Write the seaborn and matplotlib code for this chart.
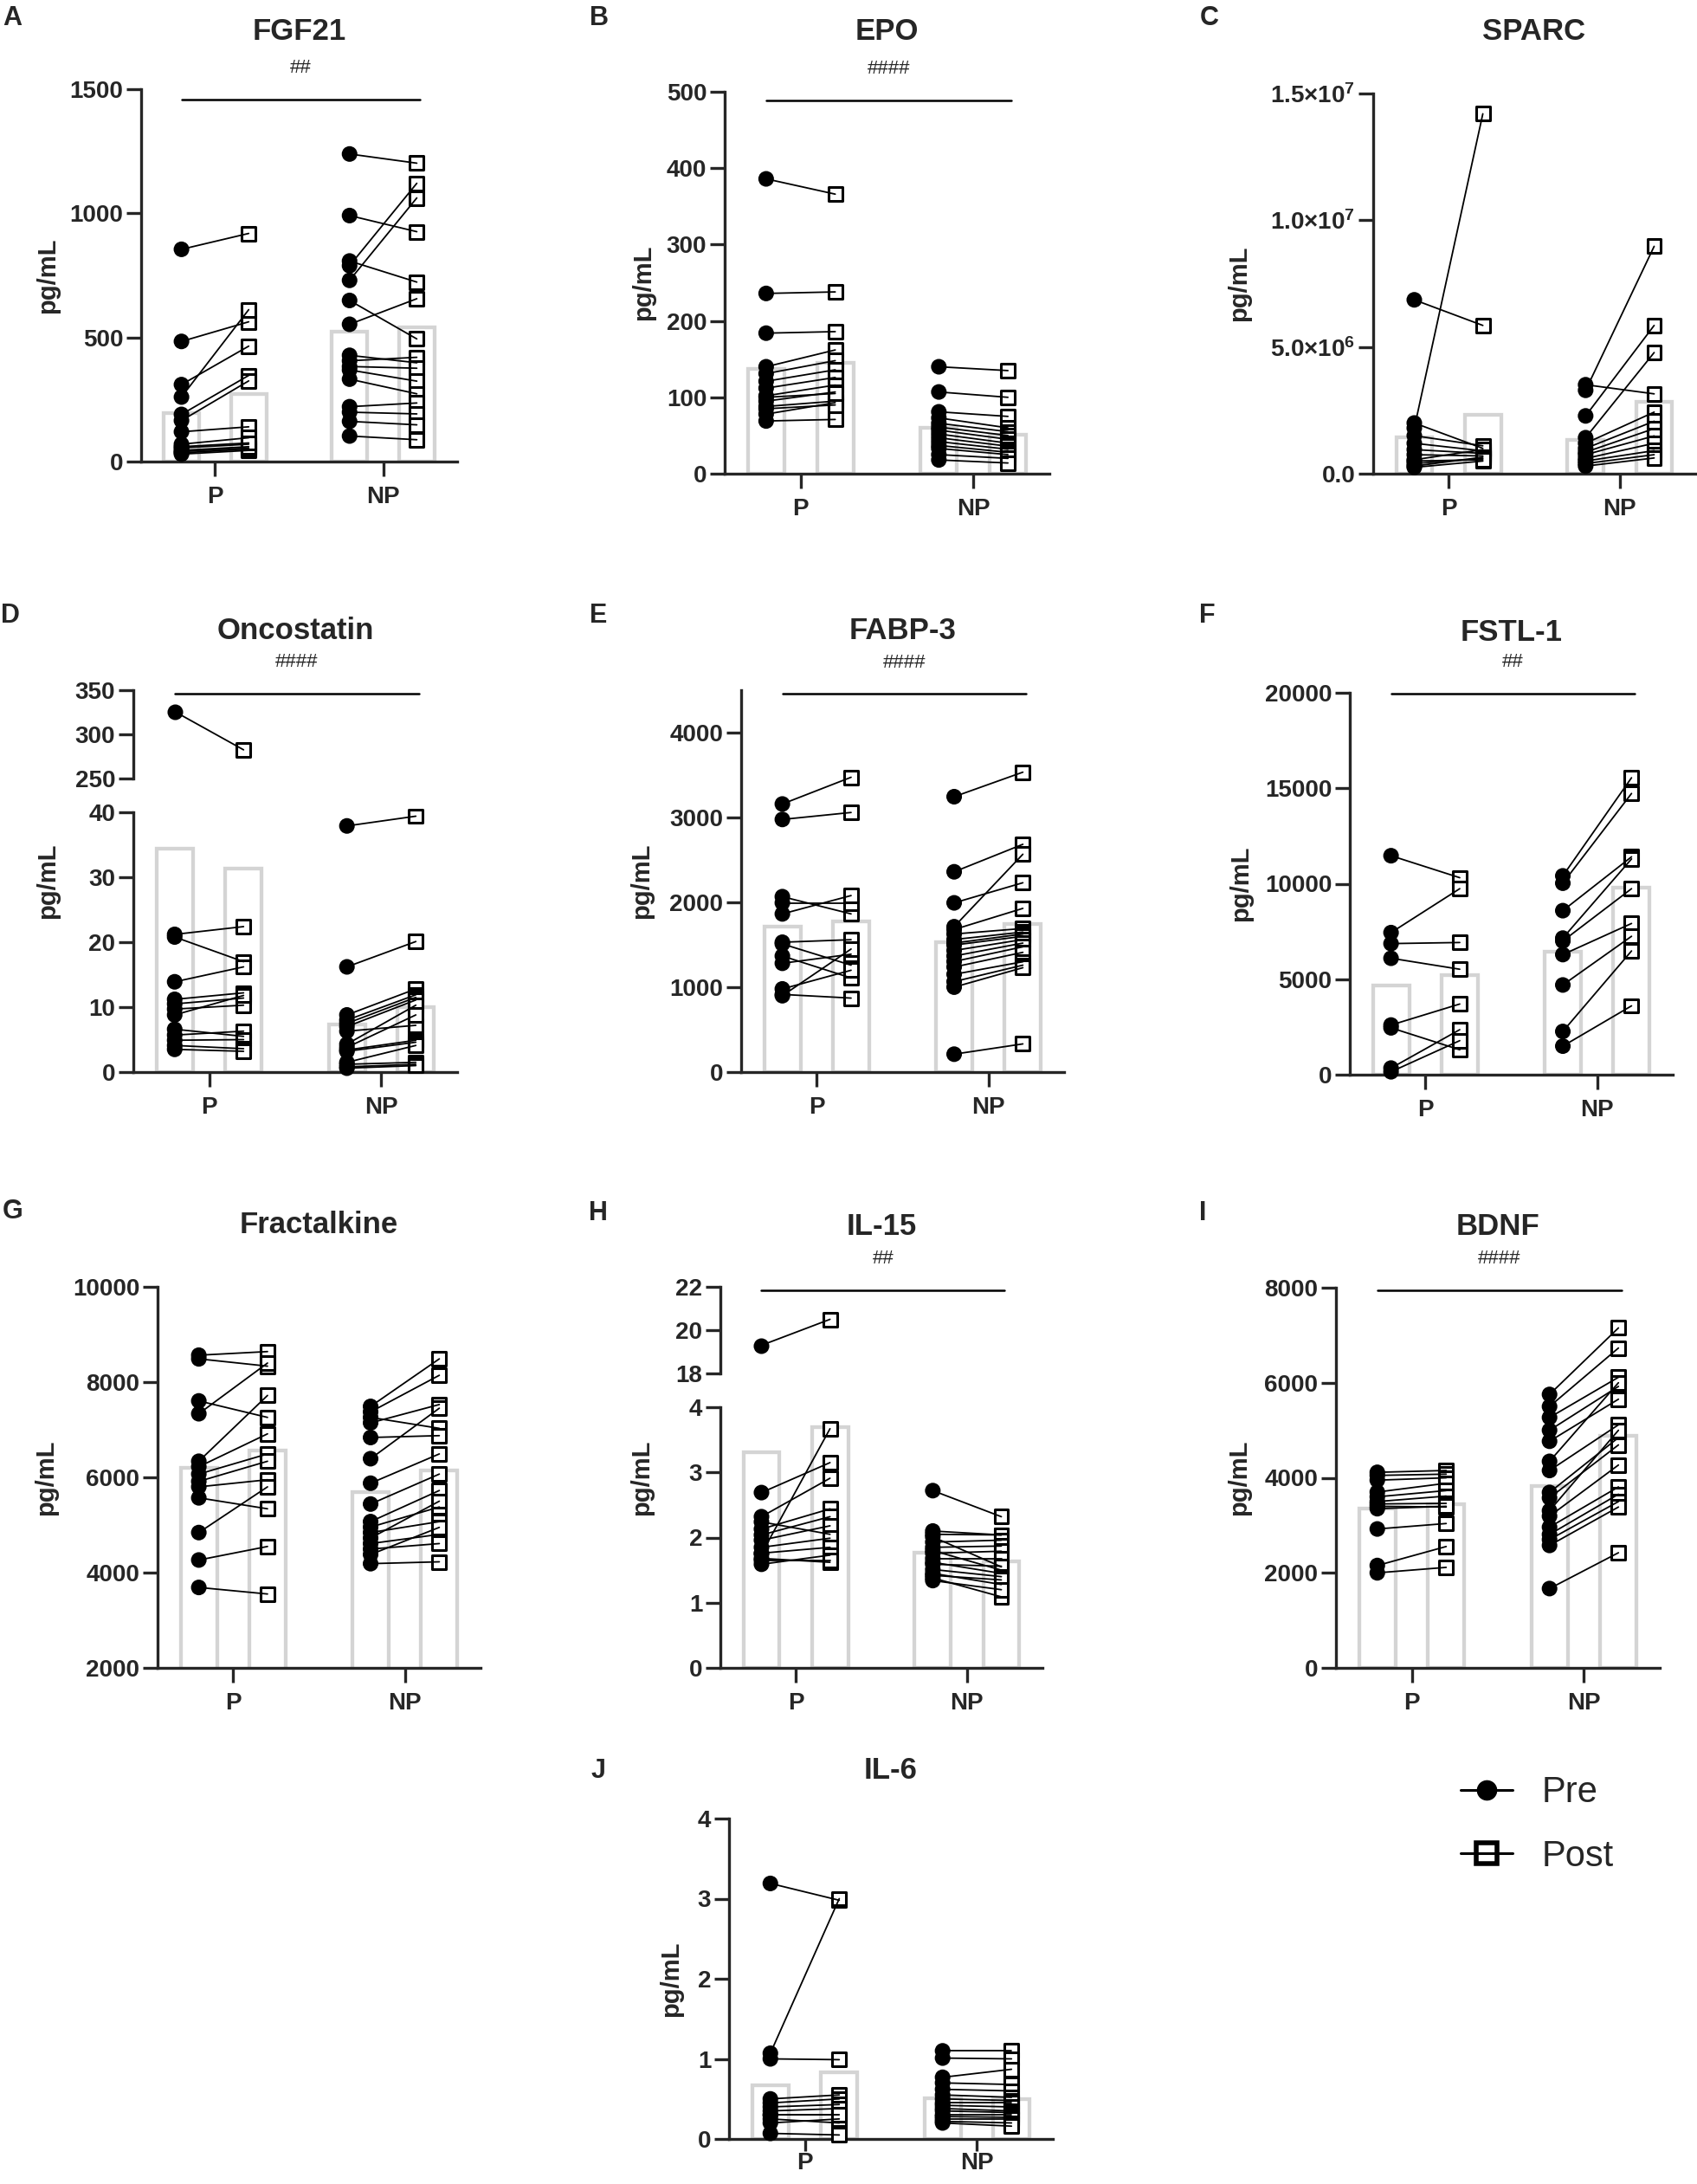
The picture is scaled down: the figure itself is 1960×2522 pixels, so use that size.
import pandas as pd
import matplotlib
matplotlib.use('Agg')
import matplotlib.pyplot as plt
from matplotlib.lines import Line2D
import seaborn as sns

W, H = 1960, 2522

groups = ['P', 'NP']
times = ['Pre', 'Post']

# FGF21
fgf21_p_pre = [855, 484, 310, 260, 190, 165, 120, 70, 55, 40, 30, 35, 45, 60]
fgf21_p_post = [919, 563, 465, 612, 347, 325, 140, 96, 70, 55, 45, 50, 60, 75]
fgf21_np_pre = [1239, 991, 808, 789, 730, 649, 553, 428, 406, 383, 369, 332, 221, 199, 162, 103]
fgf21_np_post = [1202, 926, 723, 1121, 1062, 494, 656, 398, 420, 376, 324, 273, 236, 192, 148, 88]

# EPO
epo_p_pre = [386, 236, 184, 140, 131, 121, 112, 102, 95, 88, 78, 69, 85, 100]
epo_p_post = [366, 238, 186, 162, 148, 136, 126, 116, 107, 95, 93, 71, 90, 105]
epo_np_pre = [140, 107, 81, 73, 66, 61, 57, 52, 47, 42, 37, 33, 25, 18]
epo_np_post = [135, 100, 75, 60, 55, 50, 45, 40, 36, 32, 28, 25, 20, 14]

# SPARC
sparc_p_pre = [6.86e6, 2.0e6, 1.8e6, 1.5e6, 1.2e6, 0.95e6, 0.75e6, 0.55e6, 0.4e6, 0.25e6, 0.3e6, 0.5e6]
sparc_p_post = [5.85e6, 1.0e6, 14.2e6, 1.1e6, 0.9e6, 0.8e6, 0.7e6, 0.95e6, 0.6e6, 0.5e6, 0.65e6, 0.55e6]
sparc_np_pre = [3.51e6, 3.29e6, 2.28e6, 1.42e6, 1.2e6, 1.0e6, 0.85e6, 0.75e6, 0.6e6, 0.5e6, 0.4e6, 0.3e6]
sparc_np_post = [3.15e6, 8.97e6, 5.85e6, 4.78e6, 2.43e6, 2.07e6, 1.78e6, 1.49e6, 1.2e6, 0.91e6, 0.75e6, 0.62e6]

# Oncostatin
onco_p_pre = [325.8, 21.2, 20.8, 13.9, 11.2, 10.5, 9.7, 8.8, 6.6, 5.7, 4.9, 4.1, 3.5]
onco_p_post = [282.5, 22.4, 17.0, 16.2, 12.2, 11.4, 10.3, 11.8, 5.5, 6.3, 5.0, 3.6, 3.2]
onco_np_pre = [37.9, 16.2, 8.8, 8.0, 7.5, 7.0, 6.3, 4.3, 3.8, 3.4, 3.2, 1.5, 1.2, 0.8, 0.6]
onco_np_post = [39.4, 20.1, 12.8, 11.9, 11.5, 11.1, 7.2, 10.3, 8.8, 4.9, 4.6, 4.1, 1.5, 1.2, 1.0]

# FABP-3
fabp3_p_pre = [3159, 2977, 2067, 1994, 1864, 1530, 1510, 1368, 1282, 980, 915, 900]
fabp3_p_post = [3474, 3059, 1864, 1994, 2080, 1560, 1260, 1109, 1389, 1200, 872, 1450]
fabp3_np_pre = [3245, 2360, 1994, 1713, 1680, 1627, 1562, 1520, 1497, 1433, 1368, 1303, 1238, 1152, 1066, 1001, 211]
fabp3_np_post = [3534, 2684, 2231, 2567, 1929, 1692, 1650, 1627, 1600, 1562, 1520, 1476, 1411, 1300, 1260, 1230, 332]

# FSTL-1
fstl1_p_pre = [11467, 7440, 6865, 6098, 2600, 2454, 345, 153]
fstl1_p_post = [10316, 9741, 6922, 5522, 3701, 1304, 2358, 1783]
fstl1_np_pre = [10412, 10028, 8590, 7152, 7000, 6290, 4698, 2263, 1496]
fstl1_np_post = [15551, 14727, 11409, 11300, 9741, 7919, 7248, 6481, 3605]

# Fractalkine
fkn_p_pre = [8565, 8488, 7605, 7336, 6338, 6223, 6069, 5916, 5801, 5570, 4841, 4265, 3689]
fkn_p_post = [8641, 8335, 7259, 8400, 7720, 6914, 6492, 6338, 5950, 5340, 5801, 4549, 3551]
fkn_np_pre = [7490, 7375, 7259, 7144, 6837, 6392, 5877, 5440, 5071, 4956, 4841, 4726, 4610, 4495, 4380, 4188]
fkn_np_post = [8488, 8143, 7029, 7529, 6876, 7452, 6492, 6069, 5724, 5378, 5071, 5500, 4803, 4610, 4950, 4227]

# IL-15
il15_p_pre = [19.3, 2.69, 2.32, 2.24, 2.13, 2.04, 1.96, 1.85, 1.76, 1.75, 1.68, 1.59, 1.65]
il15_p_post = [20.5, 3.15, 2.91, 2.05, 2.44, 2.32, 2.18, 1.99, 1.85, 3.67, 1.62, 1.73, 1.65]
il15_np_pre = [2.72, 2.10, 2.05, 2.01, 1.93, 1.85, 1.80, 1.76, 1.68, 1.62, 1.59, 1.51, 1.45, 1.42, 1.38, 1.34]
il15_np_post = [2.32, 2.04, 2.04, 1.55, 1.96, 1.87, 1.50, 1.79, 1.68, 1.45, 1.56, 1.40, 1.28, 1.35, 1.09, 1.20]

# BDNF
bdnf_p_pre = [4115, 4050, 3950, 3700, 3600, 3500, 3450, 3400, 3350, 2923, 2154, 2000]
bdnf_p_post = [4154, 4077, 4000, 3885, 3731, 3615, 3462, 3385, 3400, 3038, 2554, 2115]
bdnf_np_pre = [5754, 5500, 5269, 5000, 4769, 4346, 4154, 3692, 3577, 3308, 3192, 2962, 2808, 2700, 2577, 1669]
bdnf_np_post = [7154, 6731, 6115, 5923, 5654, 6000, 5115, 4846, 4692, 5000, 4269, 3808, 3654, 3500, 3385, 2423]

# IL-6
il6_p_pre = [3.19, 1.07, 1.0, 0.5, 0.45, 0.4, 0.35, 0.3, 0.25, 0.07, 0.2, 0.3]
il6_p_post = [2.98, 3.0, 0.99, 0.55, 0.5, 0.43, 0.38, 0.3, 0.2, 0.05, 0.25, 0.3]
il6_np_pre = [1.10, 1.01, 0.77, 0.70, 0.62, 0.55, 0.50, 0.45, 0.42, 0.38, 0.35, 0.30, 0.28, 0.25, 0.22, 0.20]
il6_np_post = [1.10, 1.00, 0.87, 0.68, 0.60, 0.52, 0.48, 0.45, 0.40, 0.35, 0.33, 0.30, 0.27, 0.25, 0.20, 0.16]

# y ticks
fgf21_ticks = [0, 500, 1000, 1500]
epo_ticks = [0, 100, 200, 300, 400, 500]
sparc_ticks = [0, 5e6, 1e7, 1.5e7]
sparc_labels = ['0.0', '$5.0×10^{6}$', '$1.0×10^{7}$', '$1.5×10^{7}$']
onco_ticks_low = [0, 10, 20, 30, 40]
onco_ticks_up = [250, 300, 350]
fabp3_ticks = [0, 1000, 2000, 3000, 4000]
fstl1_ticks = [0, 5000, 10000, 15000, 20000]
fkn_ticks = [2000, 4000, 6000, 8000, 10000]
il15_ticks_low = [0, 1, 2, 3, 4]
il15_ticks_up = [18, 20, 22]
bdnf_ticks = [0, 2000, 4000, 6000, 8000]
il6_ticks = [0, 1, 2, 3, 4]


def make_df(p_pre, p_post, np_pre, np_post):
    rows = []
    for g, pre, post in [('P', p_pre, p_post), ('NP', np_pre, np_post)]:
        for i, (a, b) in enumerate(zip(pre, post)):
            rows.append((g, 'Pre', a, g + str(i)))
            rows.append((g, 'Post', b, g + str(i)))
    return pd.DataFrame(rows, columns=['group', 'time', 'value', 'subject'])


sns.set_style('ticks')
plt.rcParams['font.family'] = ['Liberation Sans', 'DejaVu Sans']
plt.rcParams['font.weight'] = 'bold'
plt.rcParams['mathtext.default'] = 'regular'
plt.rcParams['axes.linewidth'] = 2.4

fig = plt.figure(figsize=(W / 100, H / 100), dpi=100)


def rect(l, r, t, b):
    return [l / W, 1 - b / H, (r - l) / W, (b - t) / H]


def draw(ax, df, lo, hi, bars=True):
    if bars:
        sns.barplot(data=df, x='group', y='value', hue='time', order=groups, hue_order=times,
                    errorbar=None, fill=False, palette=['#d4d4d4', '#d4d4d4'], width=0.8, gap=0.47,
                    linewidth=3.1, legend=False, ax=ax, zorder=1)
    # only the points that fall inside this (possibly broken) y range
    shown = df[(df.value >= lo) & (df.value <= hi)]
    for t, mk, sz, lw in [('Pre', 'o', 13, 0), ('Post', 's', 11.5, 2.2)]:
        sub = shown[shown.time == t]
        if len(sub) == 0:
            continue
        sns.stripplot(data=sub, x='group', y='value', hue='time', order=groups,
                      hue_order=times, dodge=True, jitter=False, marker=mk, size=sz,
                      palette={'Pre': 'black', 'Post': 'white'}, edgecolor='black',
                      linewidth=lw, legend=False, ax=ax, zorder=3)
    for c in list(ax.collections):
        if len(c.get_offsets()) == 0:
            c.remove()
        else:
            c.set_clip_on(False)
    # pre -> post connecting lines
    for gi, g in enumerate(groups):
        wide = df[df.group == g].pivot(index='subject', columns='time', values='value')
        for _, r in wide.iterrows():
            if lo <= r['Pre'] <= hi and lo <= r['Post'] <= hi:
                ax.plot([gi - 0.2, gi + 0.2], [r['Pre'], r['Post']], color='black', lw=1.3,
                        zorder=4, clip_on=False)
    ax.set_xlim(-0.44, 1.44)
    ax.set_xlabel('')
    ax.set_ylabel('')
    sns.despine(ax=ax)
    ax.tick_params(direction='out', length=12, width=2.4, labelsize=20)
    ax.tick_params(axis='x', pad=8)
    ax.tick_params(axis='y', pad=3)


panels = [
    dict(letter='A', title='FGF21', df=make_df(fgf21_p_pre, fgf21_p_post, fgf21_np_pre, fgf21_np_post),
         box=(163, 528, 103, 533), ylim=(0, 1500), ticks=fgf21_ticks, title_y=36, let=(14, 21),
         lab_x=55, sig='##', sig_y=0.972),
    dict(letter='B', title='EPO', df=make_df(epo_p_pre, epo_p_post, epo_np_pre, epo_np_post),
         box=(837, 1212, 106, 547), ylim=(0, 500), ticks=epo_ticks, title_y=36, let=(692, 21),
         lab_x=743, sig='####', sig_y=0.978),
    dict(letter='C', title='SPARC', df=make_df(sparc_p_pre, sparc_p_post, sparc_np_pre, sparc_np_post),
         box=(1586, 1958, 108, 547), ylim=(0, 1.5e7), ticks=sparc_ticks, labels=sparc_labels,
         title_y=36, let=(1397, 21), lab_x=1431, sig=None),
    dict(letter='D', title='Oncostatin', df=make_df(onco_p_pre, onco_p_post, onco_np_pre, onco_np_post),
         box=(154, 528, 938, 1238), ylim=(0, 40), ticks=onco_ticks_low,
         upper=(797, 899), ylim_up=(250, 350), ticks_up=onco_ticks_up,
         title_y=728, let=(12, 711), lab_x=55, sig='####', sig_y=0.96),
    dict(letter='E', title='FABP-3', df=make_df(fabp3_p_pre, fabp3_p_post, fabp3_np_pre, fabp3_np_post),
         box=(856, 1229, 797, 1238), ylim=(0, 4500), ticks=fabp3_ticks, title_y=728, let=(691, 711),
         lab_x=741, sig='####', sig_y=0.99),
    dict(letter='F', title='FSTL-1', df=make_df(fstl1_p_pre, fstl1_p_post, fstl1_np_pre, fstl1_np_post),
         box=(1559, 1932, 800, 1241), ylim=(0, 20000), ticks=fstl1_ticks, title_y=730, let=(1394, 711),
         lab_x=1433, sig='##', sig_y=0.998),
    dict(letter='G', title='Fractalkine', df=make_df(fkn_p_pre, fkn_p_post, fkn_np_pre, fkn_np_post),
         box=(182, 555, 1486, 1926), ylim=(2000, 10000), ticks=fkn_ticks, title_y=1414, let=(15, 1399),
         lab_x=53, sig=None),
    dict(letter='H', title='IL-15', df=make_df(il15_p_pre, il15_p_post, il15_np_pre, il15_np_post),
         box=(832, 1204, 1625, 1926), ylim=(0, 4), ticks=il15_ticks_low,
         upper=(1486, 1586), ylim_up=(18, 22), ticks_up=il15_ticks_up,
         title_y=1417, let=(691, 1401), lab_x=741, sig='##', sig_y=0.96),
    dict(letter='I', title='BDNF', df=make_df(bdnf_p_pre, bdnf_p_post, bdnf_np_pre, bdnf_np_post),
         box=(1543, 1917, 1487, 1926), ylim=(0, 8000), ticks=bdnf_ticks, title_y=1417, let=(1389, 1401),
         lab_x=1431, sig='####', sig_y=0.993),
    dict(letter='J', title='IL-6', df=make_df(il6_p_pre, il6_p_post, il6_np_pre, il6_np_post),
         box=(842, 1216, 2100, 2470), ylim=(0, 4), ticks=il6_ticks, title_y=2045, let=(691, 2045),
         lab_x=775, sig=None, xtick_len=10, xpad=1),
]

for p in panels:
    l, r, t, b = p['box']
    broken = 'upper' in p
    ax = fig.add_axes(rect(l, r, t, b))
    if broken:
        draw(ax, p['df'], p['ylim'][0], p['ylim'][1], bars=True)
    else:
        draw(ax, p['df'], -1e12, 1e12, bars=True)
    ax.set_ylim(*p['ylim'])
    ax.set_yticks(p['ticks'])
    if 'labels' in p:
        ax.set_yticklabels(p['labels'])
    if 'xtick_len' in p:
        ax.tick_params(axis='x', length=p['xtick_len'], pad=p['xpad'])
    top_ax = ax
    full_top = t
    if broken:
        ut, ub = p['upper']
        ax_up = fig.add_axes(rect(l, r, ut, ub))
        draw(ax_up, p['df'], p['ylim_up'][0], p['ylim_up'][1], bars=False)
        ax_up.set_ylim(*p['ylim_up'])
        ax_up.set_yticks(p['ticks_up'])
        ax_up.spines['bottom'].set_visible(False)
        ax_up.tick_params(axis='x', bottom=False, labelbottom=False)
        top_ax = ax_up
        full_top = ut

    # y label centred on the whole panel height
    ax.set_ylabel('pg/mL', fontsize=21, fontweight='bold')
    yc = (full_top + b) / 2
    ax.yaxis.set_label_coords((p['lab_x'] - l) / (r - l), (b - yc) / (b - t))
    ax.yaxis.label.set_va('center')

    fig.text((l + r) / 2 / W, 1 - p['title_y'] / H, p['title'], ha='center', va='center',
             fontsize=25, fontweight='bold')
    fig.text(p['let'][0] / W, 1 - p['let'][1] / H, p['letter'], ha='center', va='center',
             fontsize=22, fontweight='bold')

    if p['sig']:
        tr = top_ax.get_xaxis_transform()
        top_ax.plot([-0.2, 1.22], [p['sig_y'], p['sig_y']], transform=tr, color='black',
                    lw=1.8, clip_on=False)
        top_ax.annotate(p['sig'], xy=(0.51, p['sig_y']), xycoords=tr, xytext=(0, 26),
                        textcoords='offset points', ha='center', va='center',
                        fontsize=16, fontweight='normal')

handles = [
    Line2D([], [], color='black', lw=2.2, marker='o', markersize=16, markerfacecolor='black'),
    Line2D([], [], color='black', lw=2.2, marker='s', markersize=17, markerfacecolor='none',
           markeredgecolor='black', markeredgewidth=4),
]
fig.legend(handles, times, loc='center left', bbox_to_anchor=(1687 / W, 1 - 2107 / H),
           frameon=False, prop={'size': 30, 'weight': 'normal'}, handlelength=1.45,
           handletextpad=0.8, labelspacing=0.8, borderpad=0, borderaxespad=0)

fig.savefig('out.png', dpi=100)
